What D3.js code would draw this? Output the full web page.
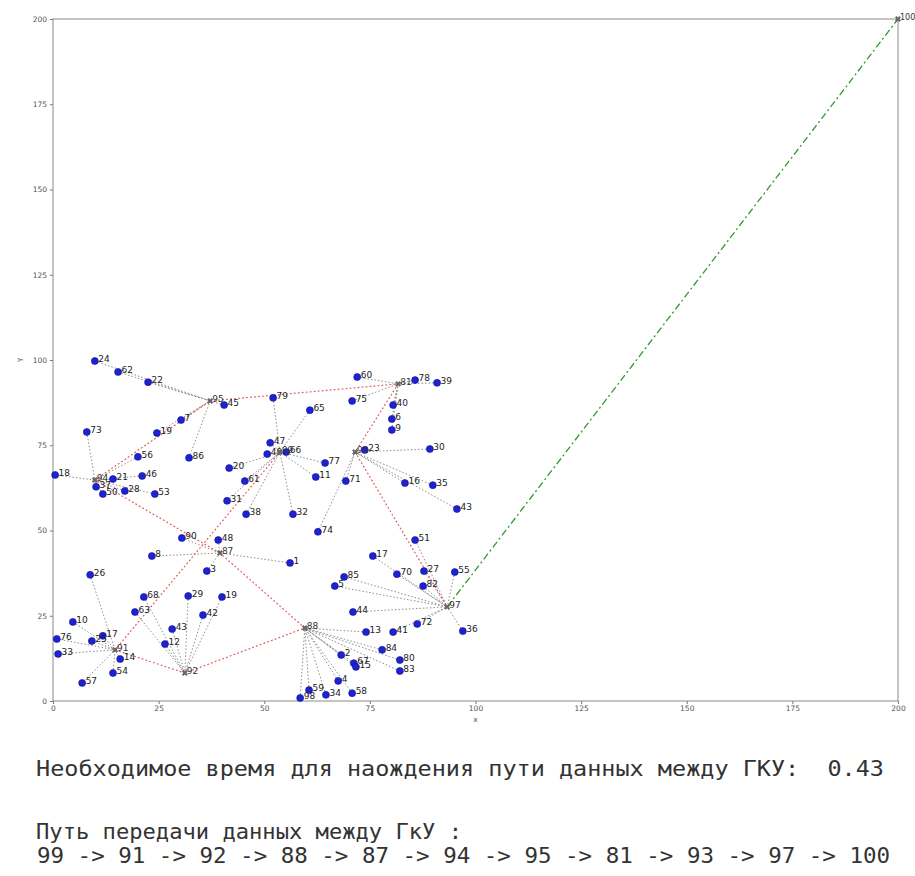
<!DOCTYPE html>
<html>
<head>
<meta charset="utf-8">
<script src="https://cdn.jsdelivr.net/npm/d3@7"></script>
<style>
  html, body { margin: 0; padding: 0; background: #fff; }
  svg { display: block; }
</style>
</head>
<body>
<svg id="chart" width="915" height="876"></svg>
<script>
// Cluster heads (ГКУ) and their coordinates
const hubIds = [99, 91, 92, 88, 87, 94, 95, 81, 93, 97, 100];
const hubX   = [53.7, 14.7, 31.2, 59.6, 39.5, 9.9, 37.2, 81.7, 71.5, 93.3, 200];
const hubY   = [73.0, 15.0, 8.2, 21.4, 43.4, 64.8, 88.0, 93.0, 73.0, 27.6, 200];

// Ordinary nodes: id, coordinates and the cluster head each one is attached to
const nodeIds = [
  24, 62, 22, 45, 7, 19, 86,
  73, 18, 21, 46, 56, 37, 50, 28, 53,
  79, 65, 47, 49, 66, 77, 11, 32, 20, 61, 31, 38,
  90, 48, 8, 1, 3,
  23, 30, 71, 16, 35, 43, 74,
  60, 75, 78, 39, 40, 6, 9,
  51, 17, 70, 27, 82, 55, 85, 5, 44, 72, 41, 36,
  13, 84, 2, 80, 83, 67, 15, 4, 58, 34, 59, 98,
  29, 19, 42, 43, 12, 68, 63,
  26, 10, 76, 33, 25, 17, 14, 54, 57
];
const nodeX = [
  9.9, 15.4, 22.5, 40.5, 30.3, 24.6, 32.2,
  8.0, 0.5, 14.2, 21.1, 20.1, 10.2, 11.8, 17.0, 24.1,
  52.1, 60.8, 51.4, 50.7, 55.2, 64.4, 62.2, 56.8, 41.7, 45.4, 41.2, 45.7,
  30.5, 39.1, 23.4, 56.1, 36.4,
  73.8, 89.2, 69.3, 83.3, 89.9, 95.6, 62.7,
  72.0, 70.8, 85.7, 90.9, 80.5, 80.2, 80.2,
  85.7, 75.7, 81.4, 87.8, 87.6, 95.1, 68.9, 66.7, 71.0, 86.2, 80.5, 97.0,
  74.1, 77.9, 68.2, 82.1, 82.1, 71.2, 71.7, 67.5, 70.8, 64.6, 60.6, 58.5,
  32.0, 40.0, 35.5, 28.2, 26.5, 21.5, 19.4,
  8.8, 4.7, 0.9, 1.2, 9.2, 11.8, 15.9, 14.2, 6.9
];
const nodeY = [
  99.7, 96.5, 93.5, 86.8, 82.4, 78.6, 71.3,
  78.9, 66.3, 65.1, 66.0, 71.6, 62.8, 60.7, 61.6, 60.7,
  88.9, 85.3, 75.7, 72.4, 73.0, 69.8, 65.7, 54.8, 68.3, 64.5, 58.7, 54.8,
  47.8, 47.2, 42.5, 40.5, 38.1,
  73.6, 73.9, 64.5, 63.9, 63.3, 56.3, 49.6,
  95.0, 88.0, 94.1, 93.3, 86.8, 82.7, 79.5,
  47.2, 42.5, 37.2, 38.1, 33.7, 37.8, 36.4, 33.7, 26.1, 22.6, 20.2, 20.5,
  20.2, 15.0, 13.5, 12.0, 8.8, 11.1, 10.0, 5.9, 2.3, 1.8, 3.2, 0.9,
  30.8, 30.5, 25.2, 21.1, 16.7, 30.5, 26.1,
  37.0, 23.2, 18.2, 13.8, 17.6, 19.1, 12.3, 8.2, 5.3
];
const nodeHub = [
  95, 95, 95, 95, 95, 95, 95,
  94, 94, 94, 94, 94, 94, 94, 94, 94,
  99, 99, 99, 99, 99, 99, 99, 99, 99, 99, 99, 99,
  87, 87, 87, 87, 87,
  93, 93, 93, 93, 93, 93, 93,
  81, 81, 81, 81, 81, 81, 81,
  97, 97, 97, 97, 97, 97, 97, 97, 97, 97, 97, 97,
  88, 88, 88, 88, 88, 88, 88, 88, 88, 88, 88, 88,
  92, 92, 92, 92, 92, 92, 92,
  91, 91, 91, 91, 91, 91, 91, 91, 91
];

// Route found between the cluster heads
const route = [99, 91, 92, 88, 87, 94, 95, 81, 93, 97, 100];
const tickValues = [0, 25, 50, 75, 100, 125, 150, 175, 200];

const timeText = "Необходимое время для наождения пути данных между ГКУ:  0.43";
const routeTitle = "Путь передачи данных между ГкУ :";

const svg = d3.select("#chart");
const x = d3.scaleLinear().domain([0, 200]).range([53, 898]);
const y = d3.scaleLinear().domain([0, 200]).range([701, 19]);

const hubs = new Map(hubIds.map((id, i) => [id, { id, x: hubX[i], y: hubY[i] }]));
const nodes = nodeIds.map((id, i) => ({ id, x: nodeX[i], y: nodeY[i], hub: nodeHub[i] }));

// Axes and frame
const gx = svg.append("g").attr("transform", `translate(0,${y(0)})`)
  .call(d3.axisBottom(x).tickValues(tickValues).tickSize(3).tickPadding(2));
const gy = svg.append("g").attr("transform", `translate(${x(0)},0)`)
  .call(d3.axisLeft(y).tickValues(tickValues).tickSize(3).tickPadding(3));
[gx, gy].forEach(g => {
  g.select(".domain").remove();
  g.selectAll(".tick line").attr("stroke", "#777");
  g.selectAll(".tick text").attr("fill", "#555").attr("font-size", 7.5)
    .attr("font-family", "DejaVu Sans");
});
svg.append("rect")
  .attr("x", x(0)).attr("y", y(200))
  .attr("width", x(200) - x(0)).attr("height", y(0) - y(200))
  .attr("fill", "none").attr("stroke", "#8a8a8a").attr("stroke-width", 1);

svg.append("text").attr("x", (x(0) + x(200)) / 2).attr("y", 722)
  .attr("text-anchor", "middle").attr("font-size", 7.5).attr("fill", "#555")
  .attr("font-family", "DejaVu Sans").text("x");
svg.append("text").attr("transform", `translate(20,${y(100)}) rotate(-90)`)
  .attr("text-anchor", "middle").attr("dy", "0.35em").attr("font-size", 7.5).attr("fill", "#555")
  .attr("font-family", "DejaVu Sans").text("Y");

// Links from nodes to their cluster heads
svg.append("g").selectAll("line").data(nodes).join("line")
  .attr("x1", d => x(d.x)).attr("y1", d => y(d.y))
  .attr("x2", d => x(hubs.get(d.hub).x)).attr("y2", d => y(hubs.get(d.hub).y))
  .attr("stroke", "#8d8d8d").attr("stroke-width", 1)
  .attr("stroke-dasharray", "1.5,2");

// Route between cluster heads
const legs = d3.pairs(route).map(([a, b]) => [hubs.get(a), hubs.get(b)]);
svg.append("g").selectAll("line").data(legs).join("line")
  .attr("x1", d => x(d[0].x)).attr("y1", d => y(d[0].y))
  .attr("x2", d => x(d[1].x)).attr("y2", d => y(d[1].y))
  .attr("stroke", (d, i) => i === legs.length - 1 ? "#2f9a2f" : "#de5a5a")
  .attr("stroke-width", (d, i) => i === legs.length - 1 ? 1.3 : 1.2)
  .attr("stroke-dasharray", (d, i) => i === legs.length - 1 ? "7,3,2,3" : "1.8,2.2");

// Nodes
const ng = svg.append("g");
ng.selectAll("circle").data(nodes).join("circle")
  .attr("cx", d => x(d.x)).attr("cy", d => y(d.y)).attr("r", 3.5)
  .attr("fill", "#1c22d6").attr("stroke", "#10138a").attr("stroke-width", 0.6);
ng.selectAll("text").data(nodes).join("text")
  .attr("x", d => x(d.x) + 3.5).attr("y", d => y(d.y) + 1)
  .attr("font-size", 9).attr("font-family", "DejaVu Sans").attr("fill", "#222")
  .text(d => d.id);

// Cluster heads
const hubList = Array.from(hubs.values());
const hg = svg.append("g");
hg.selectAll("path").data(hubList).join("path")
  .attr("transform", d => `translate(${x(d.x)},${y(d.y)}) rotate(45)`)
  .attr("d", d3.symbol(d3.symbolCross, 22))
  .attr("fill", "#666");
hg.selectAll("text").data(hubList).join("text")
  .attr("x", d => x(d.x) + 2).attr("y", d => y(d.y) + 1)
  .attr("font-size", d => d.id === 100 ? 8 : 9)
  .attr("font-family", "DejaVu Sans").attr("fill", "#333")
  .text(d => d.id);

// Printed summary under the chart
const mono = "DejaVu Sans Mono";
svg.append("text").attr("x", 36).attr("y", 776)
  .attr("font-family", mono).attr("font-size", 21).attr("fill", "#333")
  .attr("textLength", 848).attr("lengthAdjust", "spacingAndGlyphs")
  .attr("xml:space", "preserve").text(timeText);
svg.append("text").attr("x", 36).attr("y", 839)
  .attr("font-family", mono).attr("font-size", 21).attr("fill", "#333")
  .attr("textLength", 426).attr("lengthAdjust", "spacingAndGlyphs")
  .text(routeTitle);
svg.append("text").attr("x", 37).attr("y", 863)
  .attr("font-family", mono).attr("font-size", 21).attr("fill", "#333")
  .attr("textLength", 853).attr("lengthAdjust", "spacingAndGlyphs")
  .attr("xml:space", "preserve").text(route.join(" -> "));
</script>
</body>
</html>
